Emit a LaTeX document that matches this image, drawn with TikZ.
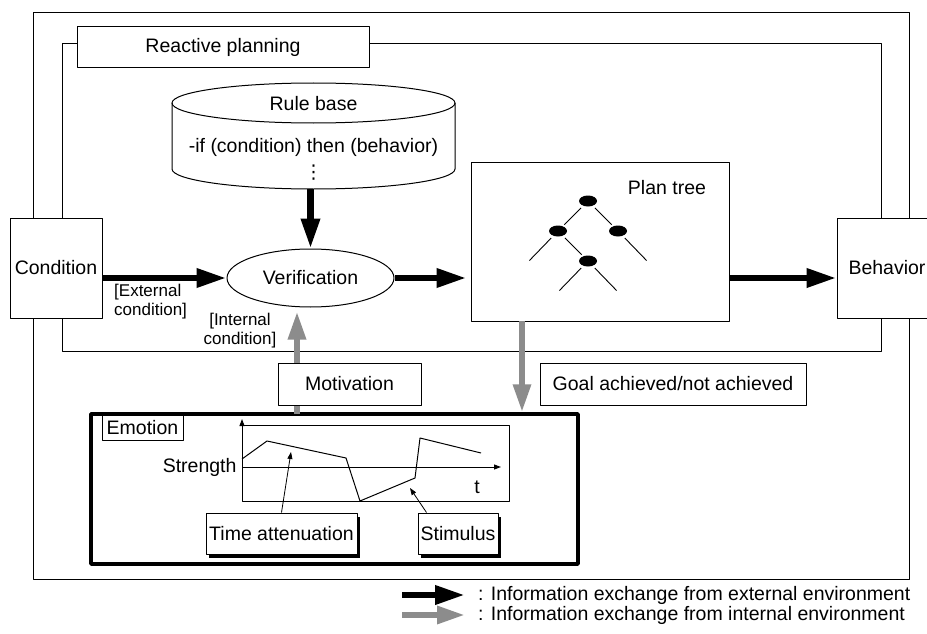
\documentclass[tikz,border=0pt]{standalone}
\usepackage{fontspec}
\setmainfont{Liberation Sans}
\newfontfamily\dejavu{DejaVu Sans}
\usetikzlibrary{arrows.meta,shapes.geometric,shadows}
\tikzset{
	box/.style={draw, fill=white, line width=1pt, inner sep=0pt},
	shadowbox/.style={box, drop shadow={shadow xshift=3pt, shadow yshift=-4pt, fill=black, opacity=1}},
	extarrow/.style={line width=6.5pt, -{Triangle[length=30pt,width=18pt]}},
	intarrow/.style={draw=black!45, line width=6pt, -{Triangle[length=28pt,width=17pt]}},
	treedot/.style={ellipse, fill=black, minimum width=18pt, minimum height=11pt, inner sep=0pt},
	note/.style={font=\fontsize{17}{19}\selectfont, inner sep=0pt}
}
\begin{document}
\begin{tikzpicture}[x=1pt, y=-1pt, font=\fontsize{19.5}{23}\selectfont, line join=round]
		\useasboundingbox (0,0) rectangle (927,634);
		% frames
		\draw[line width=1pt] (33,13) rectangle (909,579);
		\draw[line width=1pt] (62,44) rectangle (881,351);
		\node[box, minimum width=292pt, minimum height=41pt] (rp) at (223,47.5) {Reactive planning};
		% rule base
		\draw[line width=1pt, fill=white] (172,103) -- (172,169) arc[start angle=180, end angle=0, x radius=141.5, y radius=20] -- (455,103);
		\draw[line width=1pt] (313.5,103) ellipse[x radius=141.5, y radius=20];
		\node[inner sep=0pt] (rbtitle) at (313.5,104) {Rule base};
		\node[inner sep=0pt] (rbrule) at (313.5,147) {-if (condition) then (behavior)};
		\node[inner sep=0pt] (rbdots) at (313.5,173) {\dejavu\fontsize{19}{19}\selectfont ⋮};
		\coordinate (rb) at (310.5,189);
		% main chain
		\node[box, minimum width=92pt, minimum height=100pt] (cond) at (56,268) {Condition};
		\node[box, ellipse, minimum width=167pt, minimum height=58pt] (verif) at (310.5,278) {Verification};
		\node[box, minimum width=258pt, minimum height=159pt] (ptree) at (600,241.5) {};
		\node (ptlabel) at (667,188) {Plan tree};
		\node[box, minimum width=100pt, minimum height=100pt] (beh) at (887,268) {Behavior};
		\draw[extarrow] (rb) -- (verif.north);
		\draw[extarrow] (cond.east |- verif.west) -- (verif.west);
		\draw[extarrow] (verif.east) -- ([xshift=-4pt]verif.east -| ptree.west);
		\draw[extarrow] (ptree.east |- verif.east) -- (beh.west |- verif.east);
		\node[note, anchor=north west, align=left] (extc) at (114,284) {[External\\condition]};
		\node[note, align=center] (intc) at (240,331) {[Internal\\condition]};
		% plan tree
		\node[treedot] (t1) at (588,201) {};
		\node[treedot] (t2) at (558,231) {};
		\node[treedot] (t3) at (618,231) {};
		\node[treedot] (t4) at (588,261) {};
		\coordinate (l1) at (528,262);
		\coordinate (l2) at (648,262);
		\coordinate (l3) at (558,292);
		\coordinate (l4) at (618,292);
		\foreach \a/\b in {t1/t2, t1/t3, t2/t4, t2/l1, t3/l2, t4/l3, t4/l4}
			\draw[line width=0.9pt, shorten <=3pt, shorten >=2pt] (\a) -- (\b);
		% emotion
		\node[draw, line width=3.5pt, minimum width=487pt, minimum height=150pt, inner sep=0pt] (emo) at (334.5,489) {};
		\node[box, minimum width=81pt, minimum height=25pt] (emolabel) at (142.5,427.5) {Emotion};
		\coordinate (motin) at (297,414);
		\coordinate (goalout) at (522,321);
		\draw[intarrow] (motin) -- ([xshift=-13.5pt, yshift=-4pt]verif.south);
		\draw[intarrow] (goalout) -- (goalout |- emo.north);
		\node[box, minimum width=143pt, minimum height=42pt] (mot) at (349.5,384) {Motivation};
		\node[box, minimum width=266pt, minimum height=42pt] (goal) at (673,384) {Goal achieved/not achieved};
		% strength graph
		\draw[line width=1pt] (242,425) rectangle (509,501);
		\draw[line width=1pt, -{Triangle[length=7pt,width=5pt]}] (242,501) -- (242,419);
		\draw[line width=1pt, -{Triangle[length=7pt,width=5pt]}] (242,467) -- (501,467);
		\node[anchor=east] (str) at (240,467) {Strength};
		\node (tlab) at (477,487) {t};
		\draw[line width=1pt] (242,459) -- (267,441) -- (346,458) -- (360,501) -- (415,478) -- (420,438) -- (481,453);
		\node[shadowbox, minimum width=151pt, minimum height=41pt] (ta) at (281.5,533.5) {Time attenuation};
		\node[shadowbox, minimum width=80pt, minimum height=41pt] (stim) at (458,533.5) {Stimulus};
		\coordinate (tatip) at (291,452);
		\coordinate (sttip) at (410,488);
		\draw[line width=0.8pt, -{Triangle[length=7pt,width=5pt]}] (ta.north) -- (tatip);
		\draw[line width=0.8pt, -{Triangle[length=7pt,width=5pt]}] ([xshift=9pt]stim.north west) -- (sttip);
		% legend
		\coordinate (lg1a) at (402,595); \coordinate (lg1b) at (465,595);
		\coordinate (lg2a) at (402,615); \coordinate (lg2b) at (465,615);
		\draw[extarrow] (lg1a) -- (lg1b);
		\draw[intarrow] (lg2a) -- (lg2b);
		\node[anchor=west, inner sep=0pt] (lg1) at (478,595) {: Information exchange from external environment};
		\node[anchor=west, inner sep=0pt] (lg2) at (478,615) {: Information exchange from internal environment};
\end{tikzpicture}
\end{document}
